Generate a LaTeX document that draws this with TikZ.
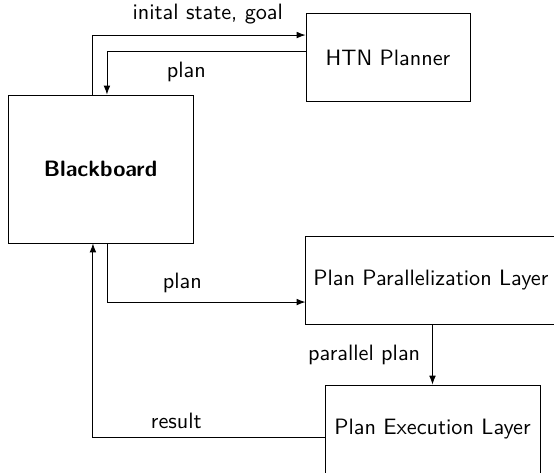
\documentclass[tikz,border=0pt]{standalone}
\usepackage{amsmath,amssymb}
\usepackage{tikz}
\usetikzlibrary{positioning, arrows.meta, calc}

\begin{document}
\begin{tikzpicture}[x=0.45pt, y=-0.45pt, font=\sffamily, >={Latex[length=4pt, width=3pt]},
        block/.style={draw, rectangle, minimum height=40pt},
        flow/.style={->}]
        \useasboundingbox (0, 0) rectangle (554, 473);
        \clip (0, 0) rectangle (554, 473);

        \node[block, minimum width=83.25pt, minimum height=66.6pt] (bb) at (100.5, 169) {\bfseries Blackboard}; % blackboard
        \node[block, minimum width=73.8pt] (htn) at (388, 57.5) {HTN Planner}; % planner
        \node[block, text width=114pt, align=left] (ppl) at (440, 280.5) {Plan Parallelization Layer}; % parallelization
        \node[block, minimum width=96.75pt] (pel) at (432.5, 429.5) {Plan Execution Layer}; % execution

        \draw[flow] ([xshift=-3.4pt]bb.north) |- node[pos=0.77, above=1.3pt] {inital state, goal} ([yshift=10.1pt]htn.west);
        \draw[flow] ([yshift=2.9pt]htn.west) -| node[pos=0.3, below=1.3pt] {plan} ([xshift=2.9pt]bb.north);
        \draw[flow] ([xshift=2.9pt]bb.south) |- node[pos=0.69, above=0.8pt] {plan} ([yshift=-9.7pt]ppl.west);
        \draw[flow] (pel.north |- ppl.south) -- node[left=2pt] {parallel plan} (pel.north);
        \draw[flow] ([yshift=-3.4pt]pel.west) -| node[pos=0.32, above] {result} ([xshift=-3.4pt]bb.south);
    \end{tikzpicture}
\end{document}
